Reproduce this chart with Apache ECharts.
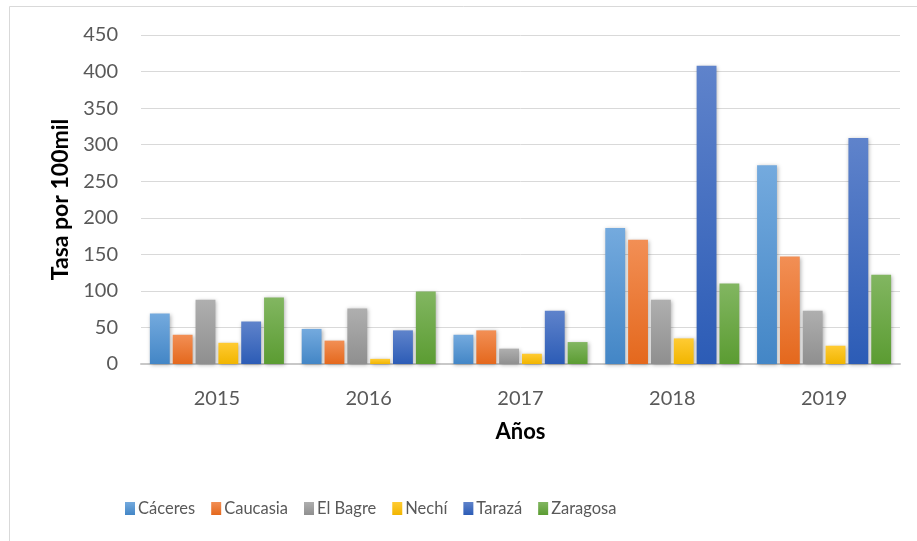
<!DOCTYPE html>
<html>
<head>
<meta charset="utf-8">
<script src="https://cdn.jsdelivr.net/npm/echarts@6/dist/echarts.min.js"></script>
<style>
html,body{margin:0;padding:0;background:#fff;}
#chart{width:917px;height:541px;}
</style>
</head>
<body>
<div id="chart"></div>
<script>
const years = ['2015', '2016', '2017', '2018', '2019'];
const seriesNames = ['Cáceres', 'Caucasia', 'El Bagre', 'Nechí', 'Tarazá', 'Zaragosa'];
const caceres  = [69, 48, 40, 186, 272];
const caucasia = [40, 32, 46, 170, 147];
const elBagre  = [88, 76, 21, 88, 73];
const nechi    = [29, 7, 14, 35, 25];
const taraza   = [58, 46, 73, 408, 309];
const zaragosa = [91, 99, 30, 110, 122];
const yTicks = [0, 50, 100, 150, 200, 250, 300, 350, 400, 450];

const values = [caceres, caucasia, elBagre, nechi, taraza, zaragosa];
const gradients = [
  ['#74aade', '#4386c6'],
  ['#f28f55', '#e4681d'],
  ['#afafaf', '#8f8f8f'],
  ['#ffcb33', '#f1b500'],
  ['#5f83cb', '#2c5cb6'],
  ['#82b661', '#5b9c32']
];
const FONT = 'Lato';

const chart = echarts.init(document.getElementById('chart'), null, {renderer: 'canvas'});
const series = seriesNames.map((name, i) => ({
  name: name,
  type: 'bar',
  data: values[i],
  barGap: '15%',
  barCategoryGap: '11.7%',
  itemStyle: {
    color: {
      type: 'linear', x: 0, y: 0, x2: 0, y2: 1,
      colorStops: [{offset: 0, color: gradients[i][0]}, {offset: 1, color: gradients[i][1]}]
    },
    shadowBlur: 4,
    shadowColor: 'rgba(0,0,0,0.3)',
    shadowOffsetX: 1,
    shadowOffsetY: 1
  },
  emphasis: {disabled: true}
}));

chart.setOption({
  animation: false,
  backgroundColor: '#fff',
  textStyle: {fontFamily: FONT},
  graphic: [{
    type: 'rect',
    shape: {x: 9.5, y: 6.5, width: 1000, height: 1000},
    style: {fill: 'none', stroke: '#d9d9d9', lineWidth: 1},
    silent: true
  }],
  grid: {left: 141, right: 17, top: 35, bottom: 177, containLabel: false},
  legend: {
    data: seriesNames,
    left: 120,
    top: 495,
    itemWidth: 10,
    itemHeight: 13,
    itemGap: 16,
    icon: 'rect',
    textStyle: {fontFamily: FONT, fontSize: 16.5, color: '#595959', padding: [0, 0, 0, -2]}
  },
  xAxis: {
    type: 'category',
    data: years,
    name: 'Años',
    nameLocation: 'middle',
    nameGap: 57,
    nameTextStyle: {fontFamily: FONT, fontSize: 22, fontWeight: 'bold', color: '#000'},
    axisLine: {show: true, lineStyle: {color: '#c8c8c8', width: 2}},
    axisTick: {show: false},
    axisLabel: {fontFamily: FONT, fontSize: 20, color: '#595959', margin: 25}
  },
  yAxis: {
    type: 'value',
    min: 0,
    max: 450,
    interval: 50,
    name: 'Tasa por 100mil',
    nameLocation: 'middle',
    nameGap: 69,
    nameTextStyle: {fontFamily: FONT, fontSize: 23, fontWeight: 'bold', color: '#000'},
    axisLine: {show: false},
    axisTick: {show: false},
    splitLine: {lineStyle: {color: '#d9d9d9', width: 1}},
    axisLabel: {
      fontFamily: FONT, fontSize: 20, color: '#595959', margin: 23,
      formatter: v => yTicks.indexOf(v) >= 0 ? String(v) : ''
    }
  },
  series: series
});
</script>
</body>
</html>
